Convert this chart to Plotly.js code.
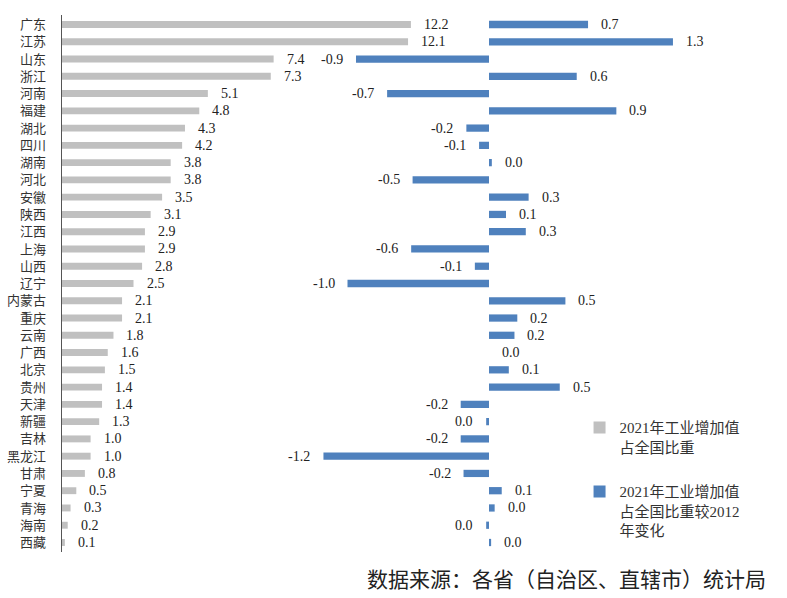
<!DOCTYPE html>
<html>
<head>
<meta charset="utf-8">
<script src="https://cdn.plot.ly/plotly-3.0.1.min.js"></script>
<style>html,body{margin:0;padding:0;background:#fff;}#chart{width:787px;height:598px;}</style>
</head>
<body>
<div id="chart"></div>
<script>
// ---- data ----
const provinces = ["广东","江苏","山东","浙江","河南","福建","湖北","四川","湖南","河北","安徽","陕西","江西","上海","山西","辽宁","内蒙古","重庆","云南","广西","北京","贵州","天津","新疆","吉林","黑龙江","甘肃","宁夏","青海","海南","西藏"];
const share2021 = [12.2,12.1,7.4,7.3,5.1,4.8,4.3,4.2,3.8,3.8,3.5,3.1,2.9,2.9,2.8,2.5,2.1,2.1,1.8,1.6,1.5,1.4,1.4,1.3,1.0,1.0,0.8,0.5,0.3,0.2,0.1];
const changeVs2012 = [0.7,1.3,-0.94,0.62,-0.72,0.9,-0.16,-0.07,0.02,-0.54,0.28,0.12,0.26,-0.55,-0.1,-1.0,0.54,0.2,0.18,0,0.14,0.5,-0.2,-0.02,-0.2,-1.17,-0.18,0.09,0.04,-0.02,0.015];
const legendShare = "2021年工业增加值<br>占全国比重";
const legendChange = "2021年工业增加值<br>占全国比重较2012<br>年变化";
const sourceNote = "数据来源：各省（自治区、直辖市）统计局";

// ---- styles ----
const grey = "#c0c0c0";
const blue = "#4f81bd";
const numFont = {family: "Liberation Serif, Times New Roman, serif", size: 14, color: "#222"};

function fmt(v){ return Math.abs(v) < 0.05 ? "0.0" : v.toFixed(1); }

const traces = [
  {type: "bar", orientation: "h", y: provinces, x: share2021, xaxis: "x", yaxis: "y",
   marker: {color: grey}, width: 0.4, name: legendShare, legendgroup: "a", hoverinfo: "x+y"},
  {type: "bar", orientation: "h", y: provinces, x: changeVs2012, xaxis: "x2", yaxis: "y",
   marker: {color: blue}, width: 0.42, name: legendChange, legendgroup: "b", hoverinfo: "x+y"}
];

const annotations = [];
provinces.forEach((p, i) => {
  annotations.push({xref: "x", yref: "y", x: share2021[i], y: p, text: fmt(share2021[i]),
    showarrow: false, xanchor: "left", xshift: 11, font: numFont});
  const v = changeVs2012[i];
  annotations.push({xref: "x2", yref: "y", x: v, y: p, text: fmt(v),
    showarrow: false, xanchor: v < 0 ? "right" : "left", xshift: v < 0 ? -11 : 11, font: numFont});
});
annotations.push({xref: "paper", yref: "paper", x: 0.997, y: -0.0484, xanchor: "right", yanchor: "middle",
  text: sourceNote, showarrow: false, font: {family: "Noto Sans CJK SC", size: 21, color: "#222"}});

const layout = {
  width: 787, height: 598,
  margin: {l: 62, r: 17, t: 15, b: 46},
  paper_bgcolor: "#fff", plot_bgcolor: "#fff",
  barmode: "overlay",
  showlegend: true,
  legend: {x: 0.731, y: 0.262, xanchor: "left", yanchor: "top", valign: "top",
    font: {family: "Liberation Serif, Noto Sans CJK SC", size: 15, color: "#333"},
    tracegroupgap: 22, bgcolor: "rgba(0,0,0,0)", itemwidth: 30},
  xaxis: {range: [0, 24.755], visible: false, fixedrange: true},
  xaxis2: {range: [-3.0177, 1.9859], overlaying: "x", visible: false, fixedrange: true},
  yaxis: {type: "category", autorange: "reversed", showline: true, linecolor: "#555", linewidth: 1.5,
    ticks: "", ticklabelstandoff: 12, showgrid: false, zeroline: false,
    tickfont: {family: "Noto Sans CJK SC", size: 13, color: "#333"}},
  annotations: annotations
};

Plotly.newPlot("chart", traces, layout, {displayModeBar: false, staticPlot: true});
</script>
</body>
</html>
